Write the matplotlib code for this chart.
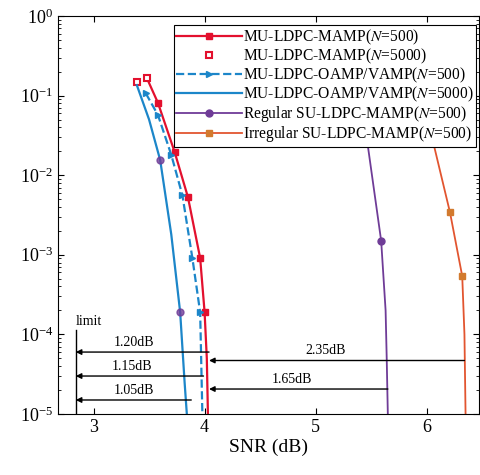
import numpy as np
import matplotlib
matplotlib.use("Agg")
import matplotlib.pyplot as plt
from matplotlib.ticker import LogLocator, LogFormatterMathtext, NullFormatter

plt.rcParams["font.family"] = ["Liberation Serif", "DejaVu Serif"]
plt.rcParams["mathtext.fontset"] = "stix"

# --- data ---
mamp500_x = [3.48, 3.58, 3.73, 3.85, 3.96, 4.00, 4.02, 4.03]
mamp500_y = [0.166, 0.081, 0.0196, 5.3e-3, 9.1e-4, 1.9e-4, 5e-5, 1e-5]

mamp5000_x = [3.39, 3.48]
mamp5000_y = [0.148, 0.166]

oamp500_x = [3.47, 3.58, 3.70, 3.80, 3.89, 3.96, 3.98]
oamp500_y = [0.107, 0.057, 0.018, 5.6e-3, 9.1e-4, 1.9e-4, 1e-5]

oamp5000_x = [3.39, 3.50, 3.60, 3.70, 3.78, 3.82, 3.84]
oamp5000_y = [0.135, 0.05, 0.0155, 1.8e-3, 1.9e-4, 2.5e-5, 1e-5]
oamp5000_mx = [3.60, 3.78]
oamp5000_my = [0.0155, 1.9e-4]

reg_x = [5.30, 5.45, 5.59, 5.63, 5.64, 5.65]
reg_y = [0.2, 0.037, 1.5e-3, 2e-4, 5e-5, 1e-5]

irr_x = [5.95, 6.05, 6.21, 6.32, 6.34, 6.35]
irr_y = [0.12, 0.029, 3.4e-3, 5.4e-4, 1e-4, 1e-5]

limit_snr = 2.84
gap_labels = ["1.20dB", "1.15dB", "1.05dB", "2.35dB", "1.65dB"]
gap_start = [4.04, 3.99, 3.88, 6.34, 5.65]
gap_end = [2.84, 2.84, 2.84, 4.04, 4.04]
gap_y = [6.0e-5, 3.0e-5, 1.5e-5, 4.7e-5, 2.06e-5]
gap_text_x = [3.36, 3.35, 3.36, 5.09, 4.79]
gap_text_y = [7.8e-5, 3.9e-5, 1.95e-5, 6.3e-5, 2.7e-5]

red = "#E3102E"
blue = "#1C86C9"
purple = "#6F3C97"
orange_line = "#E25530"
orange_mk = "#D27A2E"

fig = plt.figure(figsize=(4.81, 4.75), dpi=100)
ax = fig.add_axes([0.1206, 0.1284, 0.875, 0.838])

ax.plot(mamp500_x, mamp500_y, "-s", color=red, lw=1.6, ms=4.5,
        markevery=[1, 2, 3, 4, 5], label=r"MU-LDPC-MAMP($N$=500)")
ax.plot(mamp5000_x, mamp5000_y, "s", color=red, mfc="white", mew=1.5, ms=5,
        label=r"MU-LDPC-MAMP($N$=5000)")
ax.plot(oamp500_x, oamp500_y, "--", color=blue, lw=1.6, marker=">", ms=4,
        markevery=[0, 1, 2, 3, 4, 5], label=r"MU-LDPC-OAMP/VAMP($N$=500)")
ax.plot(oamp5000_x, oamp5000_y, "-", color=blue, lw=1.6,
        label=r"MU-LDPC-OAMP/VAMP($N$=5000)")
ax.plot(oamp5000_mx, oamp5000_my, "o", color=purple, ms=5, alpha=0.8)
ax.plot(reg_x, reg_y, "-o", color=purple, lw=1.3, ms=5, markevery=[2],
        label=r"Regular SU-LDPC-MAMP($N$=500)")
ax.plot(irr_x, irr_y, "-", color=orange_line, lw=1.3, marker="s", ms=4,
        mfc=orange_mk, mec=orange_mk, markevery=[2, 3],
        label=r"Irregular SU-LDPC-MAMP($N$=500)")

# limit line and gap arrows
ax.plot([limit_snr, limit_snr], [1e-5, 1.14e-4], color="black", lw=1.0)
ax.text(limit_snr, 1.44e-4, "limit", fontsize=10, ha="left", va="center")
for lab, x0, x1, y, tx, ty in zip(gap_labels, gap_start, gap_end, gap_y,
                                  gap_text_x, gap_text_y):
    ax.annotate("", xy=(x1, y), xytext=(x0, y),
                arrowprops=dict(arrowstyle="-|>", color="black", lw=1.0,
                                mutation_scale=8, shrinkA=0, shrinkB=0))
    ax.text(tx, ty, lab, fontsize=10, ha="center", va="center")

ax.set_yscale("log")
ax.set_xlim(2.68, 6.47)
ax.set_ylim(1e-5, 1)
ax.set_xticks([3, 4, 5, 6])
ax.yaxis.set_major_locator(LogLocator(base=10, numticks=10))
ax.yaxis.set_major_formatter(LogFormatterMathtext())
ax.yaxis.set_minor_locator(LogLocator(base=10, subs=np.arange(2, 10), numticks=10))
ax.yaxis.set_minor_formatter(NullFormatter())
ax.tick_params(which="both", direction="in", top=True, right=True)
ax.tick_params(which="major", length=4, labelsize=13)
ax.tick_params(which="minor", length=2)
ax.set_xlabel("SNR (dB)", fontsize=14, labelpad=2)

leg = ax.legend(loc="upper right", bbox_to_anchor=(0.993, 0.977), borderaxespad=0,
                fontsize=11.2, handlelength=4.2, handletextpad=0.1,
                labelspacing=0.0, borderpad=0.15, fancybox=False,
                framealpha=1, edgecolor="black")
leg.get_frame().set_linewidth(0.8)

fig.savefig("out.png", dpi=100)
